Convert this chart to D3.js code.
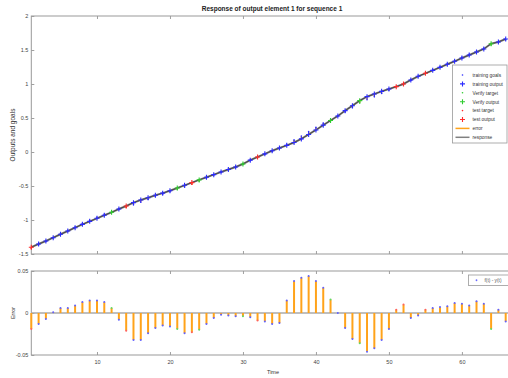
<!DOCTYPE html>
<html>
<head>
<meta charset="utf-8">
<script src="https://cdn.jsdelivr.net/npm/d3@7"></script>
<style>
  body { margin: 0; background: #fff; }
  svg { display: block; font-family: "Liberation Sans", Arial, sans-serif; }
</style>
</head>
<body>
<svg width="508" height="378"></svg>
<script>
// time steps 1..66
const steps = d3.range(1, 67);

// network output for each step
const outputs = [
  -1.40, -1.353, -1.309, -1.26, -1.21, -1.162, -1.113, -1.064, -1.02, -0.975,
  -0.93, -0.887, -0.838, -0.794, -0.745, -0.706, -0.672, -0.637, -0.605, -0.569,
  -0.53, -0.49, -0.45, -0.41, -0.372, -0.333, -0.294, -0.257, -0.22, -0.176,
  -0.12, -0.074, -0.027, 0.019, 0.059, 0.098, 0.14, 0.193, 0.258, 0.324,
  0.395, 0.463, 0.53, 0.608, 0.681, 0.755, 0.814, 0.853, 0.892, 0.926,
  0.961, 1.0, 1.059, 1.113, 1.157, 1.201, 1.245, 1.29, 1.334, 1.382,
  1.426, 1.47, 1.515, 1.593, 1.618, 1.662
];

// error (target - output) for each step
const errors = [
  -0.019, -0.013, -0.007, 0.001, 0.006, 0.006, 0.009, 0.013, 0.015, 0.015,
  0.013, 0.006, -0.008, -0.021, -0.032, -0.032, -0.024, -0.018, -0.015, -0.016,
  -0.019, -0.024, -0.023, -0.020, -0.013, -0.006, -0.002, -0.003, -0.004, -0.004,
  -0.005, -0.009, -0.010, -0.013, -0.012, 0.015, 0.038, 0.042, 0.044, 0.038,
  0.030, 0.016, 0.000, -0.018, -0.031, -0.036, -0.046, -0.042, -0.032, -0.019,
  0.004, 0.010, -0.006, -0.003, 0.004, 0.006, 0.007, 0.008, 0.012, 0.011,
  0.009, 0.014, 0.011, -0.019, 0.004, -0.010
];

// which steps belong to the verify and test sets (rest are training)
const verifySteps = [12, 21, 24, 30, 42, 46, 64];
const testSteps = [1, 14, 23, 32, 51, 52, 55];

const xTicks = [10, 20, 30, 40, 50, 60];
const yTopTicks = [-1.5, -1, -0.5, 0, 0.5, 1, 1.5, 2];
const yTopLabels = ["-1.5", "-1", "-0.5", "0", "0.5", "1", "1.5", "2"];
const yBotTicks = [-0.05, 0, 0.05];
const yBotLabels = ["-0.05", "0", "0.05"];

const legendLabels = ["training goals", "training output", "Verify target", "Verify output",
  "test target", "test output", "error", "response"];

const colors = { train: "#2b2bff", verify: "#2ecc2e", test: "#ff2b2b" };
const orange = "#ffa31a";
const gray = "#808080";

const data = steps.map((t, i) => {
  const set = testSteps.includes(t) ? "test" : verifySteps.includes(t) ? "verify" : "train";
  return { t, out: outputs[i], err: errors[i], target: outputs[i] + errors[i], set };
});

const svg = d3.select("svg");

const x = d3.scaleLinear().domain([1, 67]).range([31.3, 513]);
const yTop = d3.scaleLinear().domain([-1.5, 2]).range([254, 16]);
const yBot = d3.scaleLinear().domain([-0.05, 0.05]).range([355, 271]);

function styleAxis(g) {
  g.select(".domain").remove();
  g.selectAll(".tick line").attr("stroke", "#888").attr("stroke-width", 0.8);
  g.selectAll(".tick text").attr("fill", "#444").style("font-size", "5.5px");
}

// title
svg.append("text")
  .attr("x", 272).attr("y", 11)
  .attr("text-anchor", "middle")
  .style("font-size", "6.5px").style("font-weight", "bold")
  .attr("fill", "#222")
  .text("Response of output element 1 for sequence 1");

// ---- top plot ----
const topG = svg.append("g");

topG.append("g").attr("transform", "translate(31.3,0)")
  .call(d3.axisLeft(yTop).tickValues(yTopTicks).tickSize(-3).tickPadding(3)
    .tickFormat((d, i) => yTopLabels[i]))
  .call(styleAxis);
topG.append("g").attr("transform", "translate(0,254)")
  .call(d3.axisBottom(x).tickValues(xTicks).tickSize(-3).tickFormat(""))
  .call(styleAxis);
topG.append("g").attr("transform", "translate(0,16)")
  .call(d3.axisTop(x).tickValues(xTicks).tickSize(-3).tickFormat(""))
  .call(styleAxis);

topG.append("rect")
  .attr("x", x(1)).attr("y", yTop(2))
  .attr("width", x(67) - x(1)).attr("height", yTop(-1.5) - yTop(2))
  .attr("fill", "none").attr("stroke", "#999").attr("stroke-width", 1);

topG.append("text")
  .attr("transform", `translate(15,${(yTop(2) + yTop(-1.5)) / 2}) rotate(-90)`)
  .attr("text-anchor", "middle")
  .style("font-size", "6.5px").attr("fill", "#333")
  .text("Outputs and goals");

// response line
const respLine = d3.line().x(d => x(d.t)).y(d => yTop(d.out));
topG.append("path").datum(data)
  .attr("d", respLine)
  .attr("fill", "none").attr("stroke", gray).attr("stroke-width", 2);
topG.append("path").datum(data)
  .attr("d", respLine)
  .attr("fill", "none").attr("stroke", "#222").attr("stroke-width", 0.6);

// error segments in the top plot
topG.selectAll(".errseg").data(data).enter().append("line")
  .attr("x1", d => x(d.t)).attr("x2", d => x(d.t))
  .attr("y1", d => yTop(d.out)).attr("y2", d => yTop(d.target))
  .attr("stroke", orange).attr("stroke-width", 1.2);

// output "+" markers
topG.selectAll(".plus").data(data).enter().append("path")
  .attr("transform", d => `translate(${x(d.t)},${yTop(d.out)})`)
  .attr("d", "M-2.5,0H2.5M0,-2.5V2.5")
  .attr("stroke", d => colors[d.set]).attr("stroke-width", 1.1);

// target dots
topG.selectAll(".tgt").data(data).enter().append("circle")
  .attr("cx", d => x(d.t)).attr("cy", d => yTop(d.target))
  .attr("r", 0.8).attr("fill", d => colors[d.set]);

// legend top
const lg = topG.append("g").attr("transform", "translate(452.5,65)");
lg.append("rect").attr("width", 54.5).attr("height", 78)
  .attr("fill", "#fff").attr("stroke", "#999").attr("stroke-width", 0.8);
const legendSets = ["train", "train", "verify", "verify", "test", "test", null, null];
legendLabels.forEach((lab, i) => {
  const cy = 10 + i * 8.9;
  const item = lg.append("g").attr("transform", `translate(0,${cy})`);
  if (i < 6) {
    if (i % 2 === 0) {
      item.append("circle").attr("cx", 10).attr("cy", 0).attr("r", 0.8).attr("fill", colors[legendSets[i]]);
    } else {
      item.append("path").attr("d", "M7.5,0H12.5M10,-2.5V2.5")
        .attr("stroke", colors[legendSets[i]]).attr("stroke-width", 1.1);
    }
  } else {
    item.append("line").attr("x1", 3).attr("x2", 17).attr("y1", 0).attr("y2", 0)
      .attr("stroke", i === 6 ? orange : gray).attr("stroke-width", 1.5);
  }
  item.append("text").attr("x", 20).attr("y", 1.8)
    .style("font-size", "4.8px").attr("fill", "#333").text(lab);
});

// ---- bottom plot ----
const botG = svg.append("g");

botG.append("g").attr("transform", "translate(31.3,0)")
  .call(d3.axisLeft(yBot).tickValues(yBotTicks).tickSize(-3).tickPadding(3)
    .tickFormat((d, i) => yBotLabels[i]))
  .call(styleAxis);
botG.append("g").attr("transform", "translate(0,355)")
  .call(d3.axisBottom(x).tickValues(xTicks).tickSize(-3).tickPadding(5))
  .call(styleAxis);
botG.append("g").attr("transform", "translate(0,271)")
  .call(d3.axisTop(x).tickValues(xTicks).tickSize(-3).tickFormat(""))
  .call(styleAxis);

botG.append("rect")
  .attr("x", x(1)).attr("y", yBot(0.05))
  .attr("width", x(67) - x(1)).attr("height", yBot(-0.05) - yBot(0.05))
  .attr("fill", "none").attr("stroke", "#999").attr("stroke-width", 1);

// zero line
botG.append("line")
  .attr("x1", x(1)).attr("x2", x(67)).attr("y1", yBot(0)).attr("y2", yBot(0))
  .attr("stroke", "#aaa").attr("stroke-width", 1.5);

botG.selectAll(".stem").data(data).enter().append("line")
  .attr("x1", d => x(d.t)).attr("x2", d => x(d.t))
  .attr("y1", yBot(0)).attr("y2", d => yBot(d.err))
  .attr("stroke", orange).attr("stroke-width", 2);

botG.selectAll(".tip").data(data).enter().append("circle")
  .attr("cx", d => x(d.t)).attr("cy", d => yBot(d.err))
  .attr("r", 1).attr("fill", d => d3.interpolateRgb(colors[d.set], "#fff")(0.25));

botG.append("text")
  .attr("transform", `translate(15,${yBot(0)}) rotate(-90)`)
  .attr("text-anchor", "middle")
  .style("font-size", "5.5px").attr("fill", "#333")
  .text("Error");

botG.append("text")
  .attr("x", 273).attr("y", 374)
  .attr("text-anchor", "middle")
  .style("font-size", "5.5px").attr("fill", "#333")
  .text("Time");

// legend bottom
const lb = botG.append("g").attr("transform", "translate(468.5,275)");
lb.append("rect").attr("width", 45).attr("height", 10.5)
  .attr("fill", "#fff").attr("stroke", "#999").attr("stroke-width", 0.8);
lb.append("circle").attr("cx", 8).attr("cy", 5.25).attr("r", 0.9).attr("fill", "#6a6aff");
lb.append("text").attr("x", 16).attr("y", 7)
  .style("font-size", "4.8px").attr("fill", "#555").text("f(t) - y(t)");
</script>
</body>
</html>
